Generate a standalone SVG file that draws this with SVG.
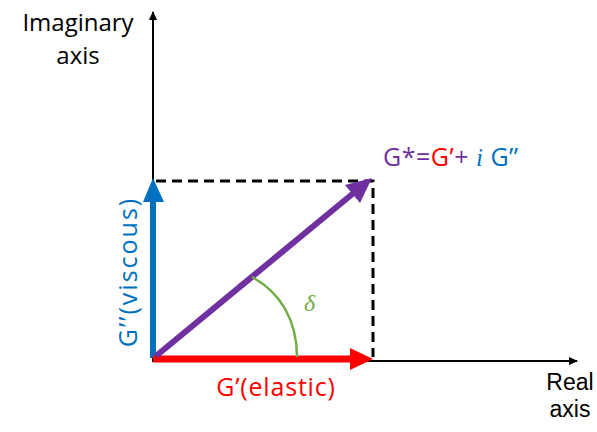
<svg xmlns="http://www.w3.org/2000/svg" width="597" height="432" viewBox="0 0 597 432">
<style>
text{font-family:"Open Sans","Liberation Sans",sans-serif;font-size:24px}
.big{font-size:25px}
.ax2{font-family:"Liberation Sans",Arial,sans-serif;font-size:23px}
.ital{font-family:"Liberation Serif",serif;font-style:italic}
.axis{stroke:#000;stroke-width:2;fill:none}
.dash{stroke:#000;stroke-width:3;stroke-dasharray:10 6;fill:none}
</style>
<defs>
<marker id="ah" markerWidth="10" markerHeight="10" refX="8" refY="5" orient="auto" markerUnits="userSpaceOnUse"><path d="M0,1 L9,5 L0,9 Z" fill="#000"/></marker>
</defs>
<rect width="597" height="432" fill="#fff"/>
<g id="connectors">
<line class="axis" x1="153" y1="362" x2="153" y2="12" marker-end="url(#ah)"/>
<line class="axis" x1="152" y1="361" x2="577" y2="361" marker-end="url(#ah)"/>
<path class="dash" d="M156,181 H373 V357"/>
<line x1="153" y1="358" x2="153" y2="200" stroke="#0070C0" stroke-width="6"/>
<polygon points="153,178 143,202 164,202" fill="#0070C0"/>
<line x1="153" y1="359" x2="352" y2="359" stroke="#FF0000" stroke-width="7"/>
<polygon points="373,359 350,348 350,370" fill="#FF0000"/>
<line x1="156" y1="356" x2="356" y2="191" stroke="#7030A0" stroke-width="6"/>
<polygon points="372,178 345,185 360,203" fill="#7030A0"/>
<path d="M252,277 C280,292 297,320 297,357" stroke="#70AD47" stroke-width="2.5" fill="none"/>
</g>
<g id="labels">
<text x="78" y="31" text-anchor="middle">Imaginary</text>
<text x="78" y="64" text-anchor="middle">axis</text>
<text class="ax2" x="570" y="390" text-anchor="middle">Real</text>
<text class="ax2" x="570" y="417" text-anchor="middle">axis</text>
<text class="big" x="276" y="396" text-anchor="middle" fill="#FF0000" letter-spacing="0.8">G’(elastic)</text>
<text class="big" transform="translate(137,272) rotate(-90)" text-anchor="middle" fill="#0070C0" letter-spacing="2">G’’(viscous)</text>
<text class="ital" x="304" y="311" fill="#70AD47" font-size="26">δ</text>
<text class="big" x="383" y="166" letter-spacing="0.5"><tspan fill="#7030A0">G*=</tspan><tspan fill="#FF0000">G’</tspan><tspan fill="#7030A0">+ </tspan><tspan fill="#0070C0" class="ital">i</tspan><tspan fill="#0070C0"> G’’</tspan></text>
</g>
</svg>
